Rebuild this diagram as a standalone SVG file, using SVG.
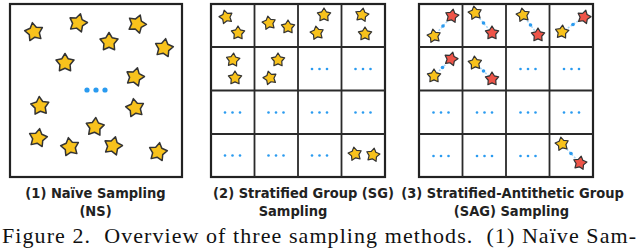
<svg xmlns="http://www.w3.org/2000/svg" xmlns:xlink="http://www.w3.org/1999/xlink" width="640" height="250" viewBox="0 0 640 250">
<style>
.box{fill:#fff;stroke:#222;stroke-width:2.2}
.grid{fill:none;stroke:#2a2a2a;stroke-width:1.8}
.y{fill:#F8C21C}
.r{fill:#EE5448}
.dot{fill:#2A9BF0}
.link{stroke:#A6D5F6;stroke-width:1.5;stroke-dasharray:2 1.5;fill:none}
.cap{font-family:"DejaVu Sans Condensed","DejaVu Sans",sans-serif;font-weight:bold;font-size:14.5px;fill:#222;text-anchor:middle}
.fig{font-family:"Liberation Serif","Times New Roman",serif;font-size:22px;fill:#111;white-space:pre}
</style>
<defs>
<path id="sb" d="M0,-9.5 L3.1,-4.3 9,-2.9 5.1,1.7 5.6,7.7 0,5.3 -5.6,7.7 -5.1,1.7 -9,-2.9 -3.1,-4.3 Z" stroke="#333" stroke-width="1.5" stroke-linejoin="round"/>
<path id="ss" d="M0,-7 L2.3,-3.2 6.65,-2.15 3.75,1.25 4.1,5.7 0,3.9 -4.1,5.7 -3.75,1.25 -6.65,-2.15 -2.3,-3.2 Z" stroke="#333" stroke-width="1.2" stroke-linejoin="round"/>
</defs>
<rect width="640" height="250" fill="#fff"/>

<g id="panel1">
<rect class="box" x="10" y="4" width="172" height="173"/>
<use xlink:href="#sb" class="y" transform="translate(34,32) rotate(-10)"/>
<use xlink:href="#sb" class="y" transform="translate(78,23) rotate(15)"/>
<use xlink:href="#sb" class="y" transform="translate(137,24) rotate(20)"/>
<use xlink:href="#sb" class="y" transform="translate(109,42)"/>
<use xlink:href="#sb" class="y" transform="translate(164,48) rotate(10)"/>
<use xlink:href="#sb" class="y" transform="translate(65,63)"/>
<use xlink:href="#sb" class="y" transform="translate(135,77) rotate(15)"/>
<use xlink:href="#sb" class="y" transform="translate(40,106) rotate(-5)"/>
<use xlink:href="#sb" class="y" transform="translate(135,108) rotate(-10)"/>
<use xlink:href="#sb" class="y" transform="translate(95,127) rotate(5)"/>
<use xlink:href="#sb" class="y" transform="translate(38,138) rotate(10)"/>
<use xlink:href="#sb" class="y" transform="translate(70,147) rotate(-10)"/>
<use xlink:href="#sb" class="y" transform="translate(113,146) rotate(15)"/>
<use xlink:href="#sb" class="y" transform="translate(158,152) rotate(10)"/>
<circle class="dot" cx="87" cy="90" r="2.6"/><circle class="dot" cx="96" cy="90" r="2.6"/><circle class="dot" cx="105" cy="90" r="2.6"/>
<text class="cap" x="95.5" y="198">(1) Naïve Sampling</text>
<text class="cap" x="95.5" y="216">(NS)</text>
</g>

<g id="panel2">
<rect class="box" x="211" y="4" width="174" height="173"/>
<path class="grid" d="M254.5,4V177M298,4V177M341.5,4V177M211,47H385M211,90.5H385M211,134H385"/>
<use xlink:href="#ss" class="y" transform="translate(226,17) rotate(-15)"/>
<use xlink:href="#ss" class="y" transform="translate(238,33)"/>
<use xlink:href="#ss" class="y" transform="translate(269,23) rotate(-10)"/>
<use xlink:href="#ss" class="y" transform="translate(288,27)"/>
<use xlink:href="#ss" class="y" transform="translate(324,15)"/>
<use xlink:href="#ss" class="y" transform="translate(317,33) rotate(-10)"/>
<use xlink:href="#ss" class="y" transform="translate(362,15) rotate(10)"/>
<use xlink:href="#ss" class="y" transform="translate(365,34)"/>
<use xlink:href="#ss" class="y" transform="translate(233,60) rotate(5)"/>
<use xlink:href="#ss" class="y" transform="translate(235,78)"/>
<use xlink:href="#ss" class="y" transform="translate(278,60)"/>
<use xlink:href="#ss" class="y" transform="translate(270,78) rotate(-15)"/>
<use xlink:href="#ss" class="y" transform="translate(355,154) rotate(-10)"/>
<use xlink:href="#ss" class="y" transform="translate(373,155) rotate(10)"/>
<g class="dot">
<circle cx="312" cy="69" r="1.3"/><circle cx="319.5" cy="69" r="1.3"/><circle cx="327" cy="69" r="1.3"/>
<circle cx="355.5" cy="69" r="1.3"/><circle cx="363" cy="69" r="1.3"/><circle cx="370.5" cy="69" r="1.3"/>
<circle cx="225" cy="112.5" r="1.3"/><circle cx="232.5" cy="112.5" r="1.3"/><circle cx="240" cy="112.5" r="1.3"/>
<circle cx="268.5" cy="112.5" r="1.3"/><circle cx="276" cy="112.5" r="1.3"/><circle cx="283.5" cy="112.5" r="1.3"/>
<circle cx="312" cy="112.5" r="1.3"/><circle cx="319.5" cy="112.5" r="1.3"/><circle cx="327" cy="112.5" r="1.3"/>
<circle cx="355.5" cy="112.5" r="1.3"/><circle cx="363" cy="112.5" r="1.3"/><circle cx="370.5" cy="112.5" r="1.3"/>
<circle cx="225" cy="155.5" r="1.3"/><circle cx="232.5" cy="155.5" r="1.3"/><circle cx="240" cy="155.5" r="1.3"/>
<circle cx="268.5" cy="155.5" r="1.3"/><circle cx="276" cy="155.5" r="1.3"/><circle cx="283.5" cy="155.5" r="1.3"/>
<circle cx="312" cy="155.5" r="1.3"/><circle cx="319.5" cy="155.5" r="1.3"/><circle cx="327" cy="155.5" r="1.3"/>
</g>
<text class="cap" x="303.5" y="198">(2) Stratified Group (SG)</text>
<text class="cap" x="293" y="216">Sampling</text>
</g>

<g id="panel3">
<rect class="box" x="419" y="4" width="174" height="173"/>
<path class="grid" d="M462.5,4V177M506,4V177M549.5,4V177M419,47H593M419,90.5H593M419,134H593"/>
<g class="dot">
<circle cx="520.5" cy="69" r="1.3"/><circle cx="528" cy="69" r="1.3"/><circle cx="535.5" cy="69" r="1.3"/>
<circle cx="564" cy="69" r="1.3"/><circle cx="571.5" cy="69" r="1.3"/><circle cx="579" cy="69" r="1.3"/>
<circle cx="433.5" cy="112.5" r="1.3"/><circle cx="441" cy="112.5" r="1.3"/><circle cx="448.5" cy="112.5" r="1.3"/>
<circle cx="477" cy="112.5" r="1.3"/><circle cx="484.5" cy="112.5" r="1.3"/><circle cx="492" cy="112.5" r="1.3"/>
<circle cx="520.5" cy="112.5" r="1.3"/><circle cx="528" cy="112.5" r="1.3"/><circle cx="535.5" cy="112.5" r="1.3"/>
<circle cx="564" cy="112.5" r="1.3"/><circle cx="571.5" cy="112.5" r="1.3"/><circle cx="579" cy="112.5" r="1.3"/>
<circle cx="433.5" cy="156" r="1.3"/><circle cx="441" cy="156" r="1.3"/><circle cx="448.5" cy="156" r="1.3"/>
<circle cx="477" cy="156" r="1.3"/><circle cx="484.5" cy="156" r="1.3"/><circle cx="492" cy="156" r="1.3"/>
<circle cx="520.5" cy="156" r="1.3"/><circle cx="528" cy="156" r="1.3"/><circle cx="535.5" cy="156" r="1.3"/>
</g>
<g id="connectors">
<path class="link" d="M434,36L452,16M475,13L492,33M523,15L538,35M562,32L584,17M434,76L451,59M475,63L492,79M562,144L580,163"/>
<g class="dot">
<circle cx="443" cy="26" r="1.8"/><circle cx="483.5" cy="23" r="1.8"/><circle cx="530.5" cy="25" r="1.8"/><circle cx="573" cy="24.5" r="1.8"/>
<circle cx="442.5" cy="67.5" r="1.8"/><circle cx="483.5" cy="71" r="1.8"/><circle cx="571" cy="153.5" r="1.8"/>
</g>
</g>
<g id="stars3">
<use xlink:href="#ss" class="y" transform="translate(434,36) rotate(-10)"/>
<use xlink:href="#ss" class="r" transform="translate(452,16) rotate(10)"/>
<use xlink:href="#ss" class="y" transform="translate(475,13) rotate(-10)"/>
<use xlink:href="#ss" class="r" transform="translate(492,33)"/>
<use xlink:href="#ss" class="y" transform="translate(523,15) rotate(-10)"/>
<use xlink:href="#ss" class="r" transform="translate(538,35)"/>
<use xlink:href="#ss" class="y" transform="translate(562,32) rotate(5)"/>
<use xlink:href="#ss" class="r" transform="translate(584,17) rotate(15)"/>
<use xlink:href="#ss" class="y" transform="translate(434,76)"/>
<use xlink:href="#ss" class="r" transform="translate(451,59) rotate(15)"/>
<use xlink:href="#ss" class="y" transform="translate(475,63) rotate(-5)"/>
<use xlink:href="#ss" class="r" transform="translate(492,79)"/>
<use xlink:href="#ss" class="y" transform="translate(562,144) rotate(-10)"/>
<use xlink:href="#ss" class="r" transform="translate(580,163) rotate(10)"/>
</g>
<text class="cap" x="512.5" y="198">(3) Stratified-Antithetic Group</text>
<text class="cap" x="511.5" y="216">(SAG) Sampling</text>
</g>

<text class="fig" x="2" y="243" textLength="634" lengthAdjust="spacing">Figure 2.  Overview of three sampling methods.  (1) Naïve Sam-</text>
</svg>
